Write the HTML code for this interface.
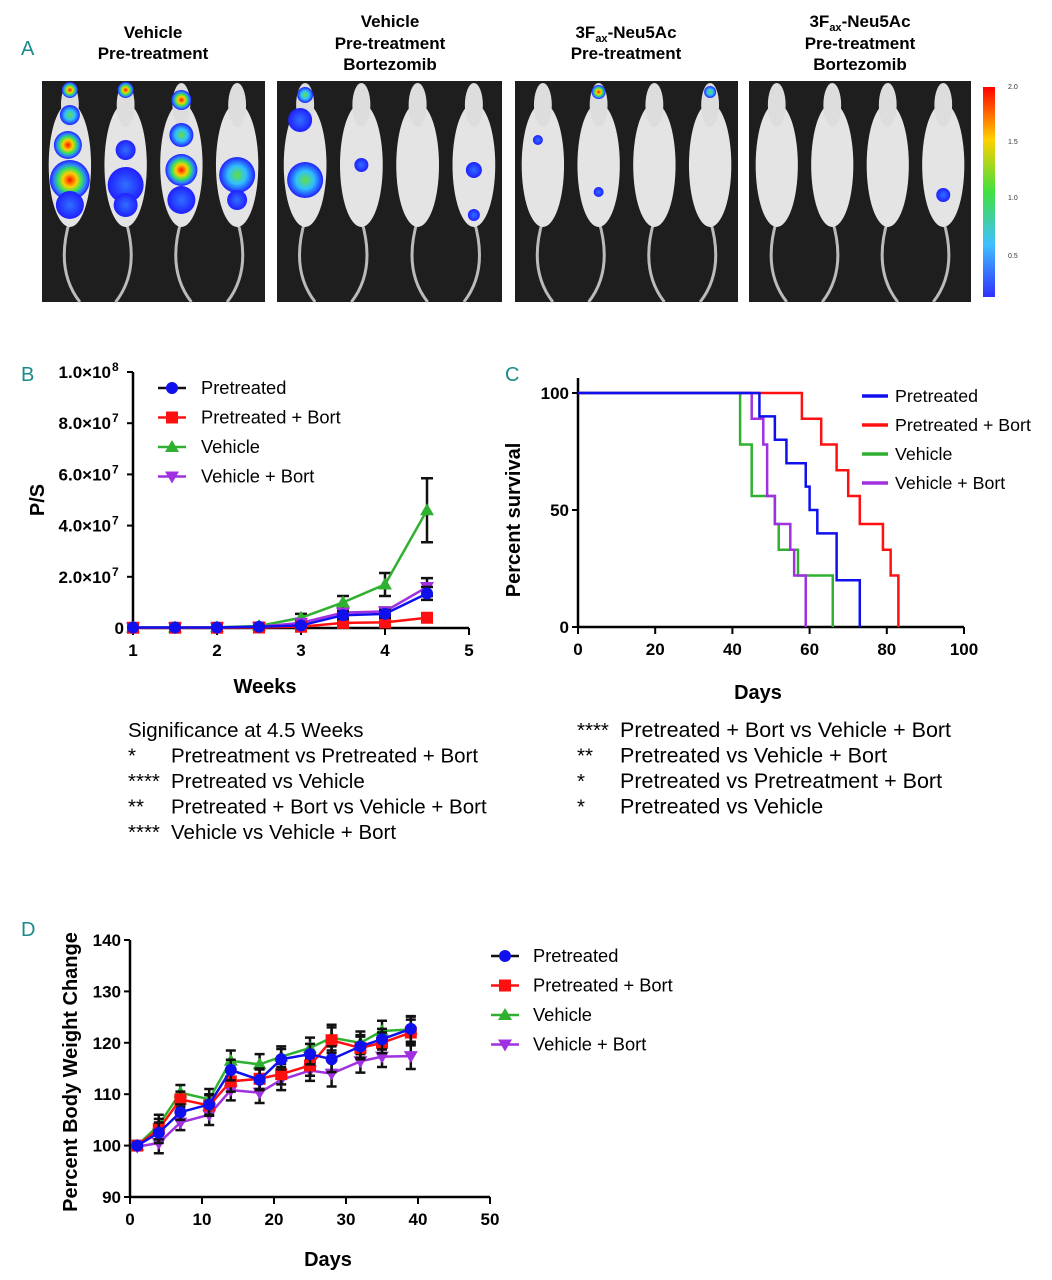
<!DOCTYPE html>
<html><head><meta charset="utf-8"><style>
body{margin:0;background:#fff;width:1052px;height:1280px;overflow:hidden;font-family:"Liberation Sans",sans-serif}
svg{position:absolute;left:0;top:0}
</style></head><body>
<svg id="fig" width="1052" height="1280" viewBox="0 0 1052 1280" xmlns="http://www.w3.org/2000/svg" font-family="Liberation Sans, sans-serif">
<defs>
<linearGradient id="cbar" x1="0" y1="1" x2="0" y2="0">
<stop offset="0" stop-color="#3030ff"/><stop offset="0.25" stop-color="#40c0ff"/><stop offset="0.5" stop-color="#40e040"/><stop offset="0.75" stop-color="#ffd000"/><stop offset="1" stop-color="#ff0000"/></linearGradient>
<radialGradient id="hot"><stop offset="0" stop-color="#ff1000"/><stop offset="0.35" stop-color="#ffd000"/><stop offset="0.6" stop-color="#30e060"/><stop offset="0.8" stop-color="#3080ff"/><stop offset="1" stop-color="#2020ff"/></radialGradient>
<radialGradient id="mid"><stop offset="0" stop-color="#60e040"/><stop offset="0.5" stop-color="#30c0ff"/><stop offset="1" stop-color="#2020ff"/></radialGradient>
<radialGradient id="low"><stop offset="0" stop-color="#3070ff"/><stop offset="1" stop-color="#2020ff"/></radialGradient>
</defs>
<g fill="#1a8a8a" font-family="Liberation Sans Narrow, Liberation Sans, sans-serif" font-size="20">
<text x="21" y="55">A</text>
<text x="21" y="381">B</text>
<text x="505" y="381">C</text>
<text x="21" y="936">D</text>
</g>
<g id="panelA"></g>
<g id="panelB"></g>
<g id="panelC"></g>
<g id="panelD"></g>
</svg>
<script>
const NS="http://www.w3.org/2000/svg";
// ---- Panel B data ----
const bWeeks=[1,1.5,2,2.5,3,3.5,4,4.5];
const bPretreated=[0.2,0.2,0.2,0.5,1,5,5.5,13.5];
const bPretreatedBort=[0.1,0.1,0.1,0.2,0.5,2,2.2,4];
const bVehicle=[0.2,0.2,0.3,0.8,4,10,17,46];
const bVehicleBort=[0.2,0.2,0.2,0.5,2,6,6.5,16];
const bErrPretreated=[0,0,0,0.3,0.5,1.5,1.5,2.5];
const bErrVehicle=[0,0,0,0.5,1.5,2.5,4.5,12.5];
const bErrVehicleBort=[0,0,0,0.3,0.8,1.5,1.5,3.5];
const bErrPretreatedBort=[0,0,0,0,0.3,0.5,0.5,0.8];
const bYTicks=[0,20,40,60,80,100];
const bYTickLabels=["0","2.0","4.0","6.0","8.0","1.0"];
const bYTickExp=["","7","7","7","7","8"];
const bXTicks=[1,2,3,4,5];
// ---- Panel C data (Kaplan-Meier steps: day, percent) ----
const cPretreatedDays=[0,47,51,54,59,60,62,67,73];
const cPretreatedPct=[100,90,80,70,60,50,40,20,0];
const cPretreatedBortDays=[0,58,63,67,70,73,79,81,83];
const cPretreatedBortPct=[100,89,78,67,56,44,33,22,0];
const cVehicleDays=[0,42,45,51,52,57,66];
const cVehiclePct=[100,78,56,44,33,22,0];
const cVehicleBortDays=[0,45,48,49,51,55,56,59];
const cVehicleBortPct=[100,89,78,56,44,33,22,0];
const cXTicks=[0,20,40,60,80,100];
const cYTicks=[0,50,100];
// ---- Panel D data ----
const dDays=[1,4,7,11,14,18,21,25,28,32,35,39];
const dPretreated=[100,102.5,106.5,108,114.7,112.8,116.8,117.8,116.8,119.3,120.7,122.7];
const dPretreatedBort=[100,103.2,109,107.8,112.5,113,113.9,115.6,120.5,119,120,122];
const dVehicle=[100,104,110.3,109,116.5,115.8,117.3,119,121,120,122.3,122.6];
const dVehicleBort=[99.8,100.5,104.5,106,110.8,110.3,112.8,114.6,114,116.4,117.3,117.4];
const dErr=[0.5,2,1.5,2,2,2,2,2,2.5,2.2,2,2.5];
const dXTicks=[0,10,20,30,40,50];
const dYTicks=[90,100,110,120,130,140];

function el(parent,tag,attrs,text){const e=document.createElementNS(NS,tag);for(const k in attrs)e.setAttribute(k,attrs[k]);if(text!==undefined)e.textContent=text;parent.appendChild(e);return e;}
const COL={blue:"#1010ee",red:"#ff1010",green:"#30b030",purple:"#a030e0"};

function marker(g,type,x,y,c){
  let m;
  if(type==="circle")m=el(g,"circle",{cx:x,cy:y,r:6,fill:c});
  else if(type==="square")m=el(g,"rect",{x:x-6,y:y-6,width:12,height:12,fill:c});
  else if(type==="tri")m=el(g,"polygon",{points:`${x},${y-7} ${x-7},${y+5} ${x+7},${y+5}`,fill:c});
  else m=el(g,"polygon",{points:`${x},${y+7} ${x-7},${y-5} ${x+7},${y-5}`,fill:c});
  
  
  return m;
}

// ---- Panel A ----
(function(){
  const g=document.getElementById("panelA");
  const titles=[["Vehicle","Pre-treatment"],["Vehicle","Pre-treatment","Bortezomib"],["3Fax-Neu5Ac","Pre-treatment"],["3Fax-Neu5Ac","Pre-treatment","Bortezomib"]];
  const panels=[[42,265],[277,502],[515,738],[749,971]];
  const centers=[153,390,626,860];
  const tops=[[38,59],[27,49,70],[38,59],[27,49,70]];
  titles.forEach((t,i)=>{
    t.forEach((line,j)=>{
      const tx=el(g,"text",{x:centers[i],y:tops[i][j],"text-anchor":"middle","font-size":"17","font-weight":"bold","font-family":"Liberation Sans Narrow, Liberation Sans, sans-serif"});
      
      
      if(line.startsWith("3Fax")){
        el(tx,"tspan",{},"3F");el(tx,"tspan",{"font-size":"11",dy:"4"},"ax");el(tx,"tspan",{dy:"-4"},"-Neu5Ac");
      } else tx.textContent=line;
    });
  });
  const blobs=[
    [[0,-70,8,"hot"],[0,-45,10,"mid"],[-2,-15,14,"hot"],[0,20,20,"hot"],[0,45,14,"low"]],
    [[0,-70,8,"hot"],[0,-10,10,"low"],[0,25,18,"low"],[0,45,12,"low"]],
    [[0,-60,10,"hot"],[0,-25,12,"mid"],[0,10,16,"hot"],[0,40,14,"low"]],
    [[0,15,18,"mid"],[0,40,10,"low"]],
    [[0,-65,8,"mid"],[-5,-40,12,"low"],[0,20,18,"mid"]],[[0,5,7,"low"]],[],[[0,10,8,"low"],[0,55,6,"low"]],
    [[-5,-20,5,"low"]],[[0,-68,7,"hot"],[0,32,5,"low"]],[],[[0,-68,6,"mid"]],
    [],[],[],[[0,35,7,"low"]]
  ];
  panels.forEach((p,i)=>{
    const pg=el(g,"g",{});
    
    
    el(pg,"rect",{x:p[0],y:81,width:p[1]-p[0],height:221,fill:"#1e1e1e"});
    const w=(p[1]-p[0])/4;
    for(let k=0;k<4;k++){
      const cx=p[0]+w*(k+0.5), cy=160;
      el(pg,"path",{d:`M${cx} ${cy+60} Q ${cx+(k%2?15:-15)} ${cy+110} ${cx+(k%2?-10:10)} ${cy+142}`,stroke:"#bbb","stroke-width":"3",fill:"none"});
      el(pg,"ellipse",{cx:cx,cy:cy+5,rx:w*0.38,ry:62,fill:"#e4e4e4"});
      el(pg,"ellipse",{cx:cx,cy:cy-55,rx:w*0.16,ry:22,fill:"#ddd"});
      (blobs[i*4+k]||[]).forEach(b=>{el(pg,"circle",{cx:cx+b[0],cy:cy+b[1],r:b[2],fill:`url(#${b[3]})`});});
    }
  });
  const cb=el(g,"g",{});
  
  
  el(cb,"rect",{x:983,y:87,width:12,height:210,fill:"url(#cbar)"});
  [["2.0",89],["1.5",144],["1.0",200],["0.5",258]].forEach(t=>el(cb,"text",{x:1008,y:t[1],"font-size":"7",fill:"#333"},t[0]));
})();

// ---- Panel B ----
(function(){
  const g=document.getElementById("panelB");
  const X=v=>133+(v-1)/4*336, Y=v=>628-v/100*256;
  el(g,"line",{x1:133,y1:Y(0),x2:469,y2:Y(0),stroke:"#000","stroke-width":"2.5"});
  el(g,"line",{x1:133,y1:Y(0),x2:133,y2:Y(100),stroke:"#000","stroke-width":"2.5"});
  bYTicks.forEach((t,i)=>{
    el(g,"line",{x1:127,y1:Y(t),x2:133,y2:Y(t),stroke:"#000","stroke-width":"2"});
    const tx=el(g,"text",{x:bYTickExp[i]?111:124,y:Y(t)+6,"text-anchor":"end","font-size":"17","font-weight":"bold"});
    
    
    if(bYTickExp[i]){tx.textContent=bYTickLabels[i]+"×10";el(g,"text",{x:112,y:Y(t)-1,"font-size":"12","font-weight":"bold"},bYTickExp[i]);}
    else tx.textContent=bYTickLabels[i];
  });
  bXTicks.forEach(t=>{
    el(g,"line",{x1:X(t),y1:Y(0),x2:X(t),y2:Y(0)+7,stroke:"#000","stroke-width":"2"});
    const tx=el(g,"text",{x:X(t),y:Y(0)+28,"text-anchor":"middle","font-size":"17","font-weight":"bold"},t);
    
    
  });
  const yt=el(g,"text",{x:0,y:0,transform:`translate(44,500) rotate(-90)`,"text-anchor":"middle","font-size":"20","font-weight":"bold"},"P/S");
  
  
  const xt=el(g,"text",{x:265,y:693,"text-anchor":"middle","font-size":"20","font-weight":"bold"},"Weeks");
  
  
  const series=[[bVehicle,bErrVehicle,COL.green,"tri"],[bVehicleBort,bErrVehicleBort,COL.purple,"inv"],[bPretreatedBort,bErrPretreatedBort,COL.red,"square"],[bPretreated,bErrPretreated,COL.blue,"circle"]];
  series.forEach(s=>{
    const sg=el(g,"g",{});
    
    
    bWeeks.forEach((w,i)=>{if(s[1][i]>0.2){const x=X(w);el(sg,"path",{d:`M${x} ${Y(s[0][i]-s[1][i])}V${Y(s[0][i]+s[1][i])}M${x-6} ${Y(s[0][i]+s[1][i])}h12M${x-6} ${Y(s[0][i]-s[1][i])}h12`,stroke:"#111","stroke-width":"2.5",fill:"none"});}});
    el(sg,"polyline",{points:bWeeks.map((w,i)=>X(w)+","+Y(s[0][i])).join(" "),stroke:s[2],"stroke-width":"2.5",fill:"none"});
    bWeeks.forEach((w,i)=>marker(sg,s[3],X(w),Y(s[0][i]),s[2]));
  });
  const leg=[["Pretreated",COL.blue,"circle"],["Pretreated + Bort",COL.red,"square"],["Vehicle",COL.green,"tri"],["Vehicle + Bort",COL.purple,"inv"]];
  leg.forEach((l,i)=>{
    const lg=el(g,"g",{});
    
    
    const y=388+i*29.5;
    el(lg,"line",{x1:158,y1:y,x2:186,y2:y,stroke:i==0?"#111":l[1],"stroke-width":"2.5"});
    marker(lg,l[2],172,y,l[1]);
    el(lg,"text",{x:201,y:y+6,"font-size":"18.3"},l[0]);
  });
  const sig=[["","Significance at 4.5 Weeks"],["*","Pretreatment vs Pretreated + Bort"],["****","Pretreated vs Vehicle"],["**","Pretreated +  Bort vs Vehicle + Bort"],["****","Vehicle vs Vehicle + Bort"]];
  sig.forEach((s,i)=>{
    const y=737+i*25.5;
    const t=el(g,"text",{x:128,y:y,"font-size":"20.5","xml:space":"preserve"},"");
    
    
    if(i==0)t.textContent=s[1];
    else{el(g,"text",{x:128,y:y,"font-size":"20.5"},s[0]);t.setAttribute("x",171);t.textContent=s[1];}
  });
})();

// ---- Panel C ----
(function(){
  const g=document.getElementById("panelC");
  const X=v=>578+v/100*386, Y=v=>627-v/100*234;
  el(g,"line",{x1:578,y1:Y(0),x2:964,y2:Y(0),stroke:"#000","stroke-width":"2.5"});
  el(g,"line",{x1:578,y1:Y(0),x2:578,y2:Y(100)-15,stroke:"#000","stroke-width":"2.5"});
  cYTicks.forEach(t=>{
    el(g,"line",{x1:572,y1:Y(t),x2:578,y2:Y(t),stroke:"#000","stroke-width":"2"});
    const tx=el(g,"text",{x:569,y:Y(t)+6,"text-anchor":"end","font-size":"17","font-weight":"bold"},t);
    
    
  });
  cXTicks.forEach(t=>{
    el(g,"line",{x1:X(t),y1:Y(0),x2:X(t),y2:Y(0)+7,stroke:"#000","stroke-width":"2"});
    const tx=el(g,"text",{x:X(t),y:Y(0)+28,"text-anchor":"middle","font-size":"17","font-weight":"bold"},t);
    
    
  });
  const yt=el(g,"text",{transform:`translate(520,520) rotate(-90)`,"text-anchor":"middle","font-size":"20","font-weight":"bold"},"Percent survival");
  
  
  const xt=el(g,"text",{x:758,y:699,"text-anchor":"middle","font-size":"20","font-weight":"bold"},"Days");
  
  
  const series=[[cPretreatedBortDays,cPretreatedBortPct,COL.red],[cVehicleDays,cVehiclePct,COL.green],[cVehicleBortDays,cVehicleBortPct,COL.purple],[cPretreatedDays,cPretreatedPct,COL.blue]];
  series.forEach(s=>{
    let d=`M${X(s[0][0])} ${Y(s[1][0])}`;
    for(let i=1;i<s[0].length;i++){d+=`H${X(s[0][i])}V${Y(s[1][i])}`;}
    const p=el(g,"path",{d:d,stroke:s[2],"stroke-width":"2.5",fill:"none"});
    
    
  });
  const leg=[["Pretreated",COL.blue],["Pretreated + Bort",COL.red],["Vehicle",COL.green],["Vehicle + Bort",COL.purple]];
  leg.forEach((l,i)=>{
    const lg=el(g,"g",{});
    
    
    const y=396+i*29;
    el(lg,"line",{x1:862,y1:y,x2:888,y2:y,stroke:l[1],"stroke-width":"3.5"});
    el(lg,"text",{x:895,y:y+6,"font-size":"17.8"},l[0]);
  });
  const sig=[["****","Pretreated + Bort vs Vehicle + Bort"],["**","Pretreated vs Vehicle + Bort"],["*","Pretreated vs Pretreatment + Bort"],["*","Pretreated vs Vehicle"]];
  sig.forEach((s,i)=>{
    const y=737+i*25.5;
    el(g,"text",{x:577,y:y,"font-size":"20.5"},s[0]);
    const t=el(g,"text",{x:620,y:y,"font-size":"21.5"},s[1]);
    
    
  });
})();

// ---- Panel D ----
(function(){
  const g=document.getElementById("panelD");
  const X=v=>130+v/50*360, Y=v=>1197-(v-90)/50*257;
  el(g,"line",{x1:130,y1:Y(90),x2:490,y2:Y(90),stroke:"#000","stroke-width":"2.5"});
  el(g,"line",{x1:130,y1:Y(90),x2:130,y2:Y(140),stroke:"#000","stroke-width":"2.5"});
  dYTicks.forEach(t=>{
    el(g,"line",{x1:124,y1:Y(t),x2:130,y2:Y(t),stroke:"#000","stroke-width":"2"});
    const tx=el(g,"text",{x:121,y:Y(t)+6,"text-anchor":"end","font-size":"17","font-weight":"bold"},t);
    
    
  });
  dXTicks.forEach(t=>{
    el(g,"line",{x1:X(t),y1:Y(90),x2:X(t),y2:Y(90)+7,stroke:"#000","stroke-width":"2"});
    const tx=el(g,"text",{x:X(t),y:Y(90)+28,"text-anchor":"middle","font-size":"17","font-weight":"bold"},t);
    
    
  });
  const yt=el(g,"text",{transform:`translate(77,1072) rotate(-90)`,"text-anchor":"middle","font-size":"20","font-weight":"bold"},"Percent Body Weight Change");
  
  
  const xt=el(g,"text",{x:328,y:1266,"text-anchor":"middle","font-size":"20","font-weight":"bold"},"Days");
  
  
  const series=[[dVehicle,COL.green,"tri"],[dVehicleBort,COL.purple,"inv"],[dPretreatedBort,COL.red,"square"],[dPretreated,COL.blue,"circle"]];
  series.forEach(s=>{
    const sg=el(g,"g",{});
    
    
    dDays.forEach((d,i)=>{const x=X(d),a=Y(s[0][i]+dErr[i]),b=Y(s[0][i]-dErr[i]);el(sg,"path",{d:`M${x} ${a}V${b}M${x-5} ${a}h10M${x-5} ${b}h10`,stroke:"#111","stroke-width":"2.5",fill:"none"});});
    el(sg,"polyline",{points:dDays.map((d,i)=>X(d)+","+Y(s[0][i])).join(" "),stroke:s[1],"stroke-width":"2.5",fill:"none"});
    dDays.forEach((d,i)=>marker(sg,s[2],X(d),Y(s[0][i]),s[1]));
  });
  const leg=[["Pretreated",COL.blue,"circle"],["Pretreated + Bort",COL.red,"square"],["Vehicle",COL.green,"tri"],["Vehicle + Bort",COL.purple,"inv"]];
  leg.forEach((l,i)=>{
    const lg=el(g,"g",{});
    
    
    const y=956+i*29.5;
    el(lg,"line",{x1:491,y1:y,x2:519,y2:y,stroke:i==0?"#111":l[1],"stroke-width":"2.5"});
    marker(lg,l[2],505,y,l[1]);
    el(lg,"text",{x:533,y:y+6,"font-size":"18.3"},l[0]);
  });
})();
</script>
</body></html>
